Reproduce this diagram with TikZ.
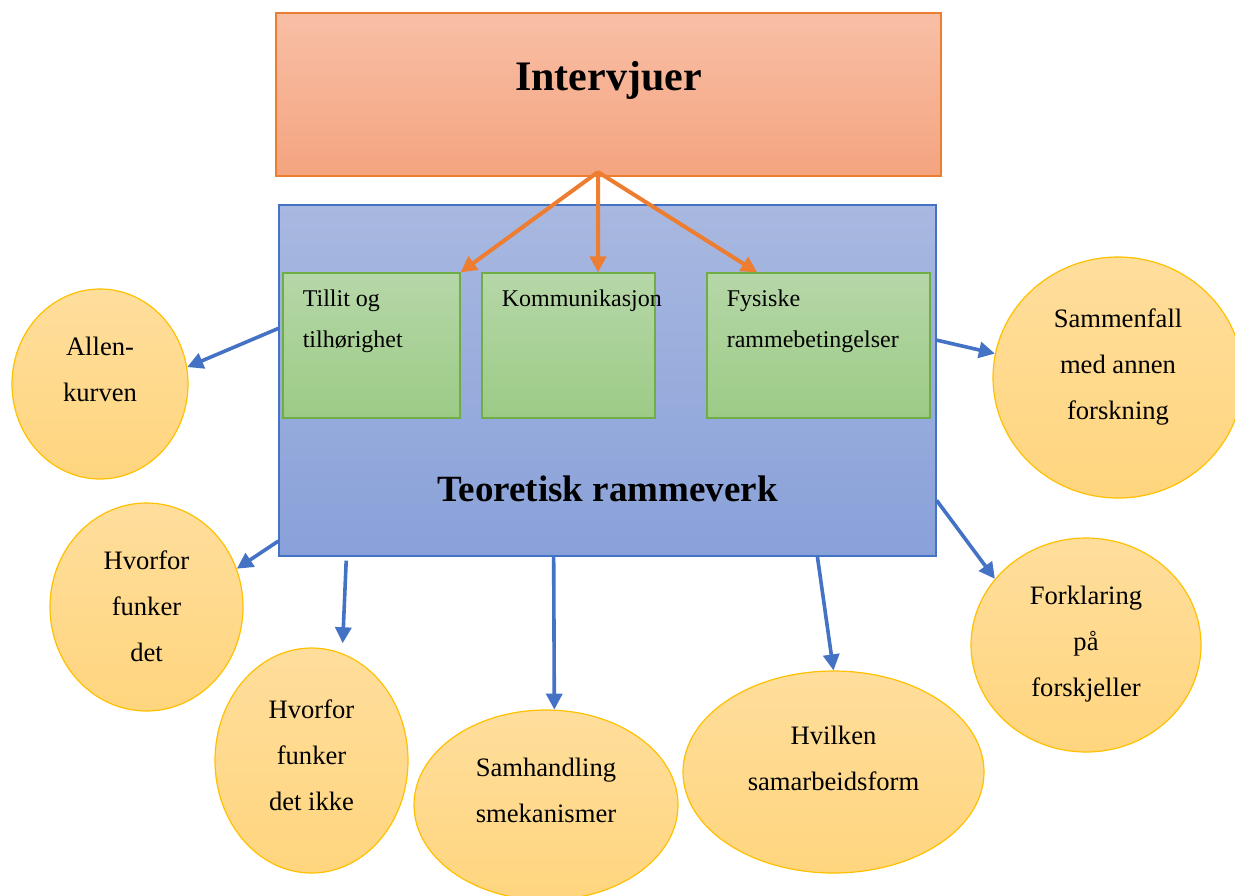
\documentclass[tikz,border=0pt]{standalone}
\usepackage{fontspec}
\setmainfont{Liberation Serif}
\usepackage{xcolor}
\usetikzlibrary{arrows.meta, shapes.geometric}

\definecolor{orangeline}{HTML}{ED7D31}
\definecolor{orangetop}{HTML}{F8BFA6}
\definecolor{orangebot}{HTML}{F4A47F}
\definecolor{blueline}{HTML}{4472C4}
\definecolor{bluetop}{HTML}{A8B8E0}
\definecolor{bluebot}{HTML}{89A1D9}
\definecolor{greenline}{HTML}{70AD47}
\definecolor{greentop}{HTML}{B6D7A8}
\definecolor{greenbot}{HTML}{9CCB86}
\definecolor{yellowline}{HTML}{FFC000}
\definecolor{yellowtop}{HTML}{FFDE9C}
\definecolor{yellowbot}{HTML}{FFD57E}

\begin{document}
\begin{tikzpicture}[x=0.5pt, y=-0.5pt,
    box/.style={draw, line width=0.6pt, inner sep=0pt},
    topbox/.style={box, draw=orangeline, top color=orangetop, bottom color=orangebot},
    framebox/.style={box, draw=blueline, top color=bluetop, bottom color=bluebot},
    themebox/.style={box, draw=greenline, top color=greentop, bottom color=greenbot,
                     minimum height=72.5pt},
    bubble/.style={ellipse, draw=yellowline, line width=0.6pt, inner sep=0pt,
                   top color=yellowtop, bottom color=yellowbot},
    title/.style={font=\bfseries\fontsize{21}{25}\selectfont},
    gtxt/.style={font=\fontsize{12}{20.5}\selectfont, align=left, inner sep=0pt,
                 anchor=north west, xshift=10pt, yshift=-8.5pt},
    etxt/.style={font=\fontsize{13.3}{23}\selectfont, align=center, inner sep=0pt},
    arr/.style={-{Triangle[length=8pt,width=8pt]}, line width=1.8pt},
    orgarr/.style={arr, draw=orangeline, line width=2pt},
    bluarr/.style={arr, draw=blueline}
  ]
    \useasboundingbox (0,0) rectangle (1235,895);

    % boxes
    \node[topbox, minimum width=332.5pt, minimum height=81.5pt] (intervjuer) at (608.5,94.5)
      [label={[title, yshift=7pt]center:Intervjuer}] {};
    \node[framebox, minimum width=328.5pt, minimum height=175.5pt] (frame) at (607.5,380.5)
      [label={[title, font=\bfseries\fontsize{18.5}{22}\selectfont, yshift=-54pt]center:Teoretisk rammeverk}] {};

    \node[themebox, minimum width=88.5pt] (g1) at (371.5,345.5)
      [label={[gtxt]north west:Tillit og\\tilhørighet}] {};
    \node[themebox, minimum width=86.5pt] (g2) at (568.5,345.5)
      [label={[gtxt]north west:Kommunikasjon}] {};
    \node[themebox, minimum width=111.5pt] (g3) at (818.5,345.5)
      [label={[gtxt]north west:Fysiske\\rammebetingelser}] {};

    % bubbles
    \node[bubble, minimum width=88pt, minimum height=95pt] (allen) at (100,384)
      [label={[etxt, yshift=7.5pt]center:Allen-\\kurven}] {};
    \node[bubble, minimum width=96.5pt, minimum height=104pt] (funker) at (146.5,607)
      [label={[etxt, yshift=0.5pt]center:Hvorfor\\funker\\det}] {};
    \node[bubble, minimum width=96.5pt, minimum height=112.5pt] (ikke) at (311.5,760.5)
      [label={[etxt, yshift=2.5pt]center:Hvorfor\\funker\\det ikke}] {};
    \node[bubble, minimum width=132pt, minimum height=95pt] (samhandling) at (546,805)
      [label={[etxt, yshift=7.5pt]center:Samhandling\\smekanismer}] {};
    \node[bubble, minimum width=150.5pt, minimum height=101pt] (hvilken) at (833.5,772)
      [label={[etxt, yshift=7pt]center:Hvilken\\samarbeidsform}] {};
    \node[bubble, minimum width=115pt, minimum height=107pt] (forklaring) at (1086,645)
      [label={[etxt, yshift=0.5pt]center:Forklaring\\på\\forskjeller}] {};
    \node[bubble, minimum width=125pt, minimum height=120.5pt] (sammenfall) at (1118,377.5)
      [label={[etxt, yshift=5.5pt]center:Sammenfall\\med annen\\forskning}] {};

    % orange arrows
    \coordinate (hub) at (598,172);
    \draw[orgarr] (hub) -- (g1.north east);
    \draw[orgarr] (hub) -- (g2.68);
    \draw[orgarr] (hub) -- (g3.130);

    % blue arrows
    \draw[bluarr] (frame.171) -- (allen.11);
    \draw[bluarr] (frame.206) -- (funker.23);
    \draw[bluarr, shorten <=2pt, shorten >=5pt] (frame.214) -- (ikke.74);
    \draw[bluarr] (frame.253) -- (samhandling.85);
    \draw[bluarr] (frame.320) -- (hvilken.north);
    \draw[bluarr] (frame.340) -- (forklaring.144);
    \draw[bluarr] (frame.7) -- (sammenfall.169);
  \end{tikzpicture}
\end{document}
